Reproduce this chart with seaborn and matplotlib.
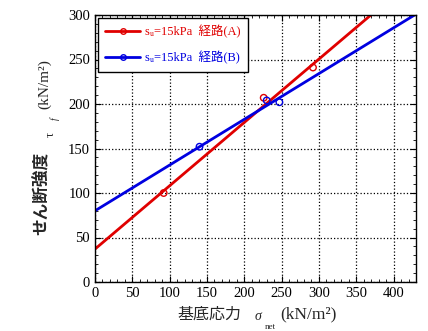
import matplotlib
matplotlib.use('Agg')
import matplotlib.pyplot as plt
from matplotlib.lines import Line2D
from matplotlib.ticker import MultipleLocator
import pandas as pd
import seaborn as sns

# measured points
red_x = [92, 226, 292]
red_y = [100, 207, 241]
blue_x = [140, 230, 247]
blue_y = [152, 204, 202]

# fitted lines (at both ends of the axis)
line_x = [0, 430]
red_line_y = [37, 343]
blue_line_y = [80, 301]

labels = ['sᵤ=15kPa  経路(A)', 'sᵤ=15kPa  経路(B)']
colors = ['#e00000', '#0000e0']

sns.set_style('ticks')
plt.rcParams['font.family'] = ['Liberation Serif', 'DejaVu Sans', 'Noto Sans CJK JP']

W, H = 428, 331
fig = plt.figure(figsize=(W / 100, H / 100), dpi=100)
ax = fig.add_axes([95 / W, 1 - 282 / H, 321 / W, 267 / H])

pts = pd.DataFrame({'x': red_x + blue_x, 'y': red_y + blue_y,
                    'g': ['A'] * 3 + ['B'] * 3})
lines = pd.DataFrame({'x': line_x * 2, 'y': red_line_y + blue_line_y,
                      'g': ['A'] * 2 + ['B'] * 2})

sns.lineplot(data=lines, x='x', y='y', hue='g', palette=colors, lw=2,
             legend=False, ax=ax)
for g, c in zip(['A', 'B'], colors):
    d = pts[pts.g == g]
    ax.scatter(d.x, d.y, s=22, facecolors='none', edgecolors=c, lw=1, zorder=3)

ax.set_xlim(0, 430)
ax.set_ylim(0, 300)
ax.xaxis.set_major_locator(MultipleLocator(50))
ax.yaxis.set_major_locator(MultipleLocator(50))
ax.xaxis.set_minor_locator(MultipleLocator(10))
ax.yaxis.set_minor_locator(MultipleLocator(10))
ax.tick_params(which='both', direction='in', top=True, right=True, colors='black',
               labelsize=10.5)
ax.tick_params(which='major', length=4)
ax.tick_params(which='minor', length=2)
ax.grid(True, which='major', ls=':', color='black', lw=0.9)
for s in ax.spines.values():
    s.set_color('black')
    s.set_linewidth(1)
ax.set_xlabel('')
ax.set_ylabel('')


def px(x, y):
    return x / W, 1 - y / H


# x label pieces
fig.text(*px(177, 315), '基底応力', ha='left', va='center', fontsize=11.5)
fig.text(*px(258, 316), 'σ', ha='center', va='center', fontsize=10, style='italic')
fig.text(*px(270, 327), 'net', ha='center', va='center', fontsize=6.5)
fig.text(*px(280, 314), '(kN/m²)', ha='left', va='center', fontsize=12.5)

# y label pieces
fig.text(*px(43, 193), 'せん断強度', rotation=90, ha='center', va='center',
         fontsize=12, fontweight='bold')
fig.text(*px(51, 134), 'τ', rotation=90, ha='center', va='center', fontsize=9)
fig.text(*px(55, 119), 'f', rotation=90, ha='center', va='center', fontsize=7,
         style='italic')
fig.text(*px(45, 84), '(kN/m²)', rotation=90, ha='center', va='center', fontsize=11)

handles = [Line2D([], [], color=c, lw=2, marker='o', markersize=4,
                  markerfacecolor='none', markeredgewidth=1) for c in colors]
leg = ax.legend(handles, labels, loc='upper left', frameon=True, fancybox=False,
                edgecolor='black', fontsize=9, handlelength=2.8,
                labelcolor='linecolor', borderaxespad=0.2, framealpha=1,
                labelspacing=1.0, borderpad=0.6, handletextpad=0.4)
leg.get_frame().set_linewidth(1)

fig.savefig('out.png', dpi=100)
